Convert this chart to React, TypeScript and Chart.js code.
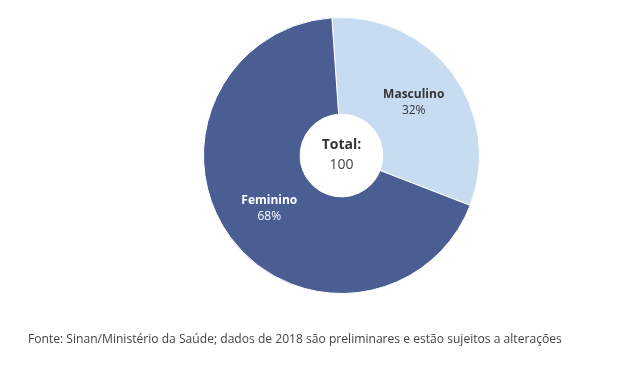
import React, { useEffect, useRef } from "react";
import { Chart, registerables } from "chart.js";

Chart.register(...registerables);

const categories = ["Masculino", "Feminino"];
const values = [32, 68];
const percentLabels = ["32%", "68%"];
const totalLabel = "Total:";
const totalValue = "100";
const colors = ["#c8dcf1", "#4a5e94"];
const labelColors = ["#333333", "#ffffff"];
const sourceText =
  "Fonte: Sinan/Ministério da Saúde; dados de 2018 são preliminares e estão sujeitos a alterações";

const FONT = "'Open Sans', 'Noto Sans', sans-serif";

const labelPlugin = {
  id: "sliceLabels",
  afterDatasetsDraw(chart: any) {
    const ctx = chart.ctx;
    const meta = chart.getDatasetMeta(0);
    ctx.save();
    ctx.textAlign = "center";
    ctx.textBaseline = "middle";
    meta.data.forEach((arc: any, i: number) => {
      const p = arc.tooltipPosition();
      ctx.fillStyle = labelColors[i];
      ctx.font = `bold 12px ${FONT}`;
      ctx.fillText(categories[i], p.x, p.y - 8);
      ctx.font = `12px ${FONT}`;
      ctx.fillText(percentLabels[i], p.x, p.y + 8);
    });
    const arc0 = meta.data[0];
    const cx = arc0.x;
    const cy = arc0.y;
    ctx.fillStyle = "#333333";
    ctx.font = `bold 14px ${FONT}`;
    ctx.fillText(totalLabel, cx, cy - 10);
    ctx.fillStyle = "#444444";
    ctx.font = `14px ${FONT}`;
    ctx.fillText(totalValue, cx, cy + 10);
    ctx.restore();
  },
};

export default function App() {
  const ref = useRef<HTMLCanvasElement>(null);
  useEffect(() => {
    document.body.style.margin = "0";
    const chart = new Chart(ref.current!, {
      type: "doughnut",
      data: {
        labels: categories,
        datasets: [
          {
            data: values,
            backgroundColor: colors,
            borderColor: "#ffffff",
            borderWidth: 1,
          },
        ],
      },
      options: {
        responsive: false,
        animation: false,
        cutout: "30%",
        rotation: -4,
        layout: { padding: { top: 17, bottom: 77, left: 203, right: 143 } },
        plugins: {
          legend: { display: false },
          tooltip: { enabled: false },
        },
      },
      plugins: [labelPlugin],
    });
    return () => chart.destroy();
  }, []);
  return (
    <div style={{ position: "relative", width: 623, height: 371, background: "#fff" }}>
      <canvas ref={ref} width={623} height={371} style={{ position: "absolute", left: 0, top: 0 }} />
      <div
        style={{
          position: "absolute",
          left: 28,
          top: 330,
          fontFamily: FONT,
          fontSize: 12.1,
          color: "#444444",
          whiteSpace: "nowrap",
        }}
      >
        {sourceText}
      </div>
    </div>
  );
}
